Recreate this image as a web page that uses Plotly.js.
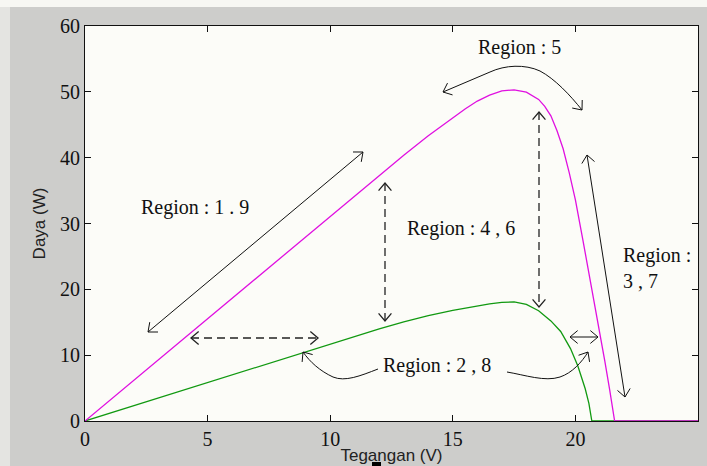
<!DOCTYPE html>
<html><head><meta charset="utf-8">
<script src="https://cdn.plot.ly/plotly-3.0.1.min.js"></script>
<style>html,body{margin:0;padding:0;background:#cdcdcb;} #chart{width:707px;height:466px;}</style>
</head><body><div id="chart"></div>
<script>
// ---- data ----
const voltageHigh = [0, 2, 4, 6, 8, 10, 12, 13, 14, 15, 15.5, 16, 16.5, 17, 17.5, 18, 18.5, 18.75, 19, 19.25, 19.5, 19.75, 20, 20.3, 20.6, 20.9, 21.2, 21.4, 21.6, 25];
const powerHigh   = [0, 6.22, 12.44, 18.66, 24.88, 31.1, 37.3, 40.37, 43.33, 46.1, 47.4, 48.6, 49.5, 50.15, 50.3, 49.95, 48.85, 47.8, 46.35, 44.1, 41.35, 37.7, 33.6, 27.6, 21.6, 15.5, 9.1, 4.7, 0, 0];
const voltageLow  = [0, 2, 4, 6, 8, 10, 12, 13, 14, 15, 16, 16.5, 17, 17.5, 18, 18.5, 19, 19.4, 19.8, 20.1, 20.4, 20.55, 20.67, 25];
const powerLow    = [0, 2.35, 4.7, 7.05, 9.4, 11.75, 14.0, 15.05, 16.0, 16.8, 17.5, 17.8, 18.02, 18.08, 17.7, 16.75, 15.2, 13.6, 11.0, 8.35, 4.9, 2.67, 0, 0];
const xTickValues = [0, 5, 10, 15, 20, 25];
const yTickValues = [0, 10, 20, 30, 40, 50, 60];
const xTitle = 'Tegangan (V)';
const yTitle = 'Daya (W)';
const regionLabels = ['Region : 1 . 9', 'Region : 4 , 6', 'Region : 5', 'Region :', '3 , 7', 'Region : 2 , 8'];

// ---- layout geometry ----
const W = 707, H = 466, M = {l: 85, r: 9, t: 26, b: 45};
const X_RANGE = [0, 25], Y_RANGE = [0, 60];
const pw = W - M.l - M.r, ph = H - M.t - M.b;
function dx(px) { return X_RANGE[0] + (px - M.l) / pw * (X_RANGE[1] - X_RANGE[0]); }
function dy(py) { return Y_RANGE[0] + (M.t + ph - py) / ph * (Y_RANGE[1] - Y_RANGE[0]); }
function P(p) { return dx(p[0]).toFixed(4) + ',' + dy(p[1]).toFixed(4); }
function px2paperX(px) { return (px - M.l) / pw; }
function px2paperY(py) { return (M.t + ph - py) / ph; }
function head(tip, from, len, ang) {
  len = len || 10; ang = (ang || 40) * Math.PI / 180;
  const ux = from[0] - tip[0], uy = from[1] - tip[1], n = Math.hypot(ux, uy);
  const rot = t => [tip[0] + len * (ux * Math.cos(t) - uy * Math.sin(t)) / n,
                    tip[1] + len * (ux * Math.sin(t) + uy * Math.cos(t)) / n];
  return 'M' + P(rot(ang)) + ' L' + P(tip) + ' L' + P(rot(-ang));
}
const shapes = [];
function addPath(path, dash, color, width) {
  shapes.push({type: 'path', xref: 'x', yref: 'y', path: path, layer: 'above',
    line: {color: color || '#111', width: width || 1, dash: dash || 'solid'}});
}
function dblArrow(a, b, dashed) {
  addPath('M' + P(a) + ' L' + P(b), dashed ? '8px,5px' : 'solid', dashed ? '#222' : '#111', dashed ? 1.3 : 1);
  addPath(head(a, b) + ' ' + head(b, a), 'solid', dashed ? '#222' : '#111', dashed ? 1.3 : 1);
}
// straight arrows (pixel positions of the reference)
dblArrow([148, 332], [363, 152], false);
dblArrow([191, 338], [318, 338], true);
dblArrow([385, 183], [385, 321], true);
dblArrow([539, 112], [539, 307], true);
dblArrow([587, 155], [625, 397], false);
dblArrow([570, 337], [598, 337], false);
// curved arrows
addPath('M' + P([443, 92]) + ' L' + P([490, 72]) + ' C' + P([505, 65]) + ' ' + P([525, 64]) + ' ' + P([540, 71]) +
        ' C' + P([555, 79]) + ' ' + P([570, 95]) + ' ' + P([582, 110]));
addPath(head([443, 92], [490, 72]) + ' ' + head([582, 110], [570, 95]));
addPath('M' + P([378, 369]) + ' C' + P([360, 376]) + ' ' + P([345, 382]) + ' ' + P([333, 377]) +
        ' C' + P([320, 371]) + ' ' + P([310, 362]) + ' ' + P([303, 352]));
addPath(head([303, 352], [310, 362]));
addPath('M' + P([507, 372]) + ' C' + P([525, 375]) + ' ' + P([545, 382]) + ' ' + P([560, 377]) +
        ' C' + P([572, 373]) + ' ' + P([582, 362]) + ' ' + P([588, 352]));
addPath(head([588, 352], [582, 362]));

// background decorations (paper)
shapes.push({type: 'rect', xref: 'paper', yref: 'paper', layer: 'below',
  x0: px2paperX(0), x1: px2paperX(W), y0: px2paperY(7), y1: px2paperY(0),
  fillcolor: '#f7f7f3', line: {width: 0}});
shapes.push({type: 'rect', xref: 'paper', yref: 'paper', layer: 'below',
  x0: px2paperX(0), x1: px2paperX(10), y0: px2paperY(H), y1: px2paperY(7),
  fillcolor: '#e4e4e1', line: {width: 0}});
shapes.push({type: 'rect', xref: 'paper', yref: 'paper', layer: 'above',
  x0: px2paperX(372), x1: px2paperX(381), y0: px2paperY(466), y1: px2paperY(462),
  fillcolor: '#000', line: {width: 0}});

const textFont = {family: '"Liberation Serif", "Times New Roman", serif', size: 20, color: '#111'};
function label(text, pxy, anchor) {
  return {text: text, x: dx(pxy[0]), y: dy(pxy[1]), xref: 'x', yref: 'y', showarrow: false,
          xanchor: anchor || 'center', yanchor: 'middle', font: textFont};
}
const annotations = [
  label(regionLabels[0], [195, 207]),
  label(regionLabels[1], [461, 228]),
  label(regionLabels[2], [519, 47]),
  label(regionLabels[3], [621, 255], 'left'),
  label(regionLabels[4], [621, 281], 'left'),
  label(regionLabels[5], [437, 365])
];

const traces = [
  {x: voltageLow, y: powerLow, type: 'scatter', mode: 'lines', line: {color: '#119911', width: 1.3}, cliponaxis: true},
  {x: voltageHigh, y: powerHigh, type: 'scatter', mode: 'lines', line: {color: '#e010e0', width: 1.3}, cliponaxis: true}
];

const axisCommon = {
  showgrid: false, zeroline: false, showline: true, linecolor: '#111', linewidth: 1, mirror: 'ticks',
  ticks: 'inside', ticklen: 6, tickwidth: 1, tickcolor: '#111', layer: 'below traces',
  tickfont: {family: '"Liberation Serif", "Times New Roman", serif', size: 20, color: '#111'}
};
const layout = {
  width: W, height: H, margin: M, showlegend: false,
  paper_bgcolor: '#cdcdcb', plot_bgcolor: '#fcfcf8',
  xaxis: Object.assign({}, axisCommon, {range: X_RANGE, tickvals: xTickValues, ticktext: xTickValues.map(String),
    title: {text: xTitle, standoff: 0, font: {family: '"Liberation Sans", Arial, sans-serif', size: 17, color: '#222'}}}),
  yaxis: Object.assign({}, axisCommon, {range: Y_RANGE, tickvals: yTickValues, ticktext: yTickValues.map(String),
    title: {text: yTitle, standoff: 10, font: {family: '"Liberation Sans", Arial, sans-serif', size: 17, color: '#222'}}}),
  shapes: shapes, annotations: annotations
};
Plotly.newPlot('chart', traces, layout, {displayModeBar: false, staticPlot: true});
</script></body></html>
